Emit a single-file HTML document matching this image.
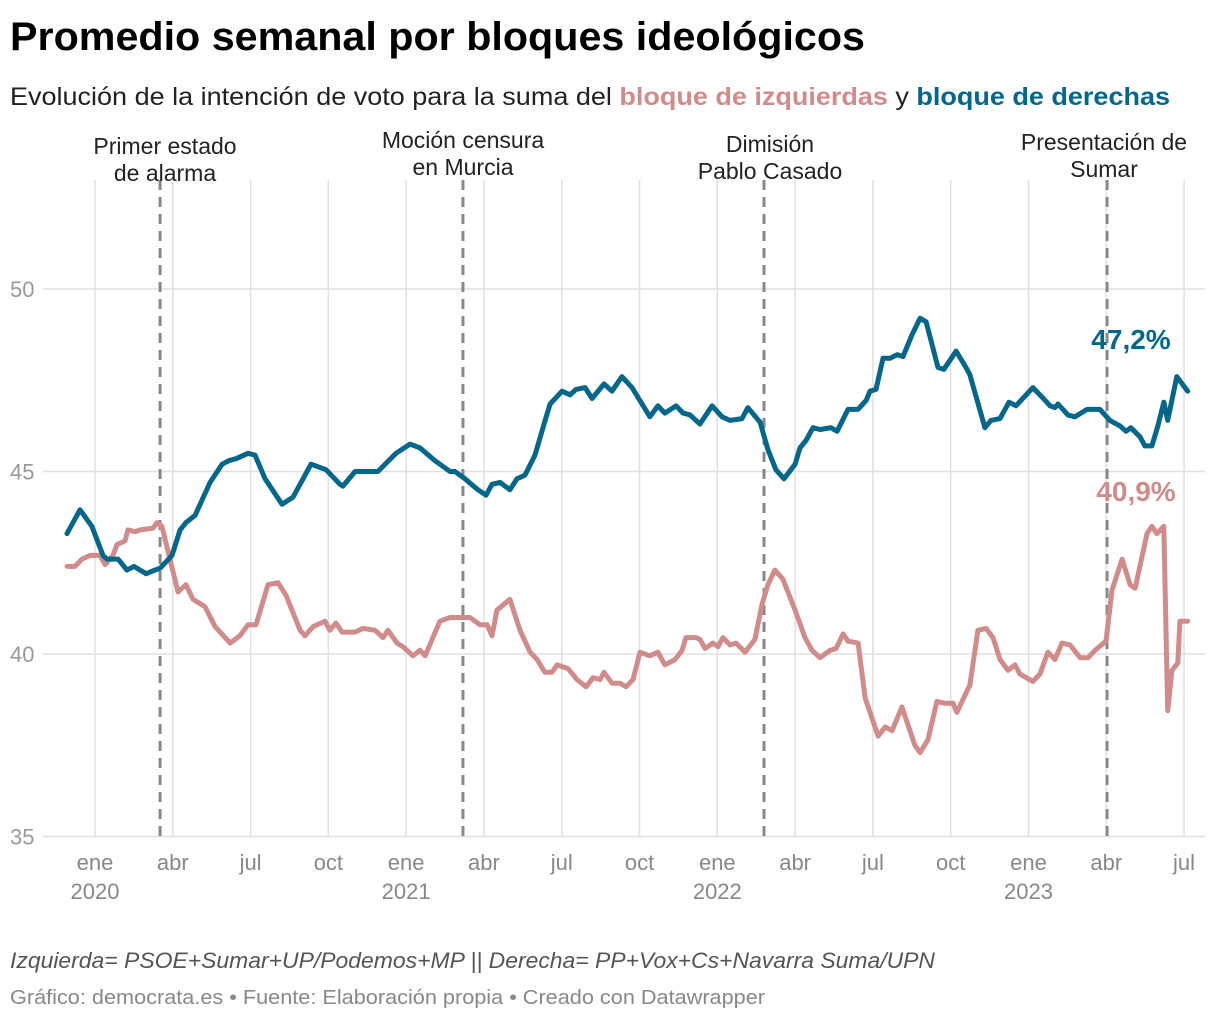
<!DOCTYPE html>
<html><head><meta charset="utf-8">
<style>
html,body{margin:0;padding:0;background:#fff;}
svg{display:block;font-family:"Liberation Sans",sans-serif;}
</style></head>
<body>
<svg id="chart" width="1220" height="1020" viewBox="0 0 1220 1020" xmlns="http://www.w3.org/2000/svg">
<text x="10" y="50" font-size="40" font-weight="bold" fill="#000" textLength="855" lengthAdjust="spacingAndGlyphs">Promedio semanal por bloques ideológicos</text>
<text x="10" y="105" font-size="25" fill="#222" textLength="1160" lengthAdjust="spacingAndGlyphs">Evolución de la intención de voto para la suma del <tspan font-weight="bold" fill="#d08c8a">bloque de izquierdas</tspan> y <tspan font-weight="bold" fill="#00678a">bloque de derechas</tspan></text>
<g id="grid"></g>
<g id="events"></g>
<g id="lines"></g>
<g id="labels"></g>
<text x="10" y="968" font-size="22" font-style="italic" fill="#555" textLength="925" lengthAdjust="spacingAndGlyphs">Izquierda= PSOE+Sumar+UP/Podemos+MP || Derecha= PP+Vox+Cs+Navarra Suma/UPN</text>
<text x="10" y="1004" font-size="20" fill="#888" textLength="755" lengthAdjust="spacingAndGlyphs">Gráfico: democrata.es • Fuente: Elaboración propia • Creado con Datawrapper</text>
</svg>
<script>
// months since Jan 2020
const derMonths=[-1.08,-0.58,-0.12,0.31,0.46,0.89,1.23,1.50,1.97,2.31,2.51,2.97,3.28,3.51,3.86,4.44,4.90,5.17,5.44,5.90,6.17,6.56,7.21,7.64,8.33,8.91,9.45,9.56,10.03,10.91,11.61,12.15,12.53,13.11,13.69,13.88,14.27,14.77,15.08,15.31,15.62,16.00,16.27,16.58,16.97,17.36,17.55,18.01,18.32,18.55,18.90,19.17,19.63,19.94,20.32,20.71,21.40,21.71,21.98,22.41,22.68,22.95,23.33,23.80,24.18,24.49,24.95,25.18,25.65,25.95,26.26,26.57,27.00,27.19,27.42,27.69,27.96,28.38,28.62,29.04,29.43,29.74,29.89,30.12,30.39,30.66,30.93,31.16,31.51,31.82,32.05,32.51,32.74,33.21,33.59,33.74,34.32,34.55,34.90,35.25,35.52,36.17,36.64,36.83,37.02,37.14,37.52,37.79,38.26,38.76,39.14,39.53,39.76,39.95,40.30,40.49,40.76,40.99,41.22,41.37,41.72,42.14];
const derValues=[43.3,43.95,43.5,42.7,42.6,42.6,42.3,42.4,42.2,42.3,42.35,42.7,43.4,43.6,43.8,44.7,45.2,45.3,45.35,45.5,45.45,44.8,44.1,44.3,45.2,45.05,44.65,44.6,45.0,45.0,45.5,45.75,45.65,45.3,45.0,45.0,44.8,44.5,44.35,44.65,44.7,44.5,44.8,44.9,45.45,46.4,46.85,47.2,47.1,47.25,47.3,47.0,47.4,47.2,47.6,47.3,46.5,46.8,46.6,46.8,46.6,46.55,46.3,46.8,46.5,46.4,46.45,46.75,46.35,45.6,45.05,44.8,45.2,45.65,45.85,46.2,46.15,46.2,46.1,46.7,46.7,46.95,47.2,47.25,48.1,48.1,48.2,48.15,48.75,49.2,49.1,47.85,47.8,48.3,47.85,47.65,46.2,46.4,46.45,46.9,46.8,47.3,46.95,46.8,46.75,46.85,46.55,46.5,46.7,46.7,46.4,46.25,46.1,46.2,45.95,45.7,45.7,46.25,46.9,46.4,47.6,47.2];
const izqMonths=[-1.08,-0.77,-0.50,-0.19,0.19,0.39,0.69,0.85,1.16,1.27,1.54,1.74,2.24,2.39,2.58,2.89,3.20,3.51,3.78,4.24,4.63,5.21,5.59,5.90,6.21,6.67,7.06,7.37,7.91,8.10,8.41,8.87,9.06,9.29,9.53,10.03,10.34,10.80,11.11,11.30,11.65,11.88,12.26,12.53,12.73,13.30,13.69,14.19,14.46,14.85,15.12,15.31,15.50,16.00,16.39,16.78,17.05,17.35,17.62,17.82,18.24,18.59,18.94,19.21,19.48,19.63,19.94,20.25,20.48,20.75,21.02,21.40,21.71,21.98,22.37,22.64,22.79,23.18,23.33,23.53,23.83,24.03,24.22,24.49,24.72,25.07,25.45,25.72,25.95,26.22,26.53,27.00,27.38,27.65,27.96,28.35,28.58,28.85,29.04,29.43,29.70,30.20,30.47,30.74,31.12,31.62,31.82,32.12,32.47,32.78,33.09,33.24,33.47,33.74,34.05,34.36,34.63,34.90,35.21,35.48,35.67,36.17,36.44,36.75,37.02,37.29,37.60,37.99,38.30,38.57,38.99,39.22,39.61,39.92,40.11,40.57,40.76,40.95,41.22,41.37,41.53,41.76,41.84,42.14];
const izqValues=[42.4,42.4,42.6,42.7,42.7,42.45,42.7,43.0,43.1,43.4,43.35,43.4,43.45,43.6,43.5,42.6,41.7,41.9,41.5,41.3,40.75,40.3,40.5,40.8,40.8,41.9,41.95,41.6,40.65,40.5,40.75,40.9,40.65,40.85,40.6,40.6,40.7,40.65,40.45,40.65,40.3,40.2,39.95,40.1,39.95,40.9,41.0,41.0,41.0,40.8,40.8,40.5,41.2,41.5,40.65,40.05,39.85,39.5,39.5,39.7,39.6,39.3,39.1,39.35,39.3,39.5,39.2,39.2,39.1,39.3,40.05,39.95,40.05,39.7,39.85,40.1,40.45,40.45,40.4,40.15,40.3,40.2,40.45,40.25,40.3,40.05,40.4,41.35,41.9,42.3,42.05,41.2,40.45,40.1,39.9,40.1,40.15,40.55,40.35,40.3,38.8,37.75,38.0,37.9,38.55,37.5,37.3,37.65,38.7,38.65,38.65,38.4,38.75,39.15,40.65,40.7,40.45,39.85,39.55,39.7,39.45,39.25,39.45,40.05,39.85,40.3,40.25,39.9,39.9,40.1,40.35,41.75,42.6,41.9,41.8,43.3,43.5,43.3,43.5,38.45,39.55,39.75,40.9,40.9];
const yTicks=[35,40,45,50];
const xTickMonths=[0,3,6,9,12,15,18,21,24,27,30,33,36,39,42];
const xTickLabels=["ene","abr","jul","oct","ene","abr","jul","oct","ene","abr","jul","oct","ene","abr","jul"];
const xYearLabels=["2020","","","","2021","","","","2022","","","","2023","",""];
const eventMonths=[2.51,14.19,25.8,39.03];
const eventLabels=[["Primer estado","de alarma"],["Moción censura","en Murcia"],["Dimisión","Pablo Casado"],["Presentación de","Sumar"]];
const eventLabelX=[165,463,770,1104];
const eventLabelY=[154,148,152,150];

const NS="http://www.w3.org/2000/svg";
const xs=m=>95+m*25.93;
const ys=v=>289+(50-v)*36.5;
function mk(tag,attrs,parent){const e=document.createElementNS(NS,tag);for(const k in attrs)e.setAttribute(k,attrs[k]);parent.appendChild(e);return e;}
const grid=document.getElementById('grid');
yTicks.forEach(t=>{
  const l=mk('line',{x1:43,x2:1205,y1:ys(t),y2:ys(t),stroke:'#e0e0e0','stroke-width':1.5},grid);
  
  
  const tx=mk('text',{x:10,y:ys(t)+8,'font-size':22,fill:'#999'},grid);
  tx.textContent=t;
  
  
});
xTickMonths.forEach((m,i)=>{
  const l=mk('line',{x1:xs(m),x2:xs(m),y1:180,y2:837,stroke:'#e0e0e0','stroke-width':1.5},grid);
  
  
  const tx=mk('text',{x:xs(m),y:870,'font-size':22,fill:'#888','text-anchor':'middle'},grid);
  tx.textContent=xTickLabels[i];
  
  
  if(xYearLabels[i]){
    const ty=mk('text',{x:xs(m),y:899,'font-size':22,fill:'#888','text-anchor':'middle'},grid);
    ty.textContent=xYearLabels[i];
    
    
  }
});
const ev=document.getElementById('events');
eventMonths.forEach((m,i)=>{
  const l=mk('line',{x1:xs(m),x2:xs(m),y1:180,y2:837,stroke:'#888','stroke-width':3,'stroke-dasharray':'10,7'},ev);
  
  
  eventLabels[i].forEach((s,j)=>{
    const t=mk('text',{x:eventLabelX[i],y:eventLabelY[i]+j*27,'font-size':23,fill:'#222','text-anchor':'middle'},ev);
    t.textContent=s;
    
    
  });
});
const lines=document.getElementById('lines');
function path(ms,vs,color,name){
  const d=ms.map((m,i)=>(i?'L':'M')+xs(m).toFixed(1)+','+ys(vs[i]).toFixed(1)).join('');
  const p=mk('path',{d:d,fill:'none',stroke:color,'stroke-width':5,'stroke-linejoin':'round','stroke-linecap':'round'},lines);
  
  
}
path(izqMonths,izqValues,'#d08c8a','line-izquierdas');
path(derMonths,derValues,'#00678a','line-derechas');
const lab=document.getElementById('labels');
const dl=mk('text',{x:1131,y:349,'font-size':28,'font-weight':'bold',fill:'#00678a','text-anchor':'middle'},lab);
dl.textContent=derValues[derValues.length-1].toFixed(1).replace('.',',')+'%';


const il=mk('text',{x:1136,y:501,'font-size':28,'font-weight':'bold',fill:'#d08c8a','text-anchor':'middle'},lab);
il.textContent=izqValues[izqValues.length-1].toFixed(1).replace('.',',')+'%';


</script>
</body></html>
